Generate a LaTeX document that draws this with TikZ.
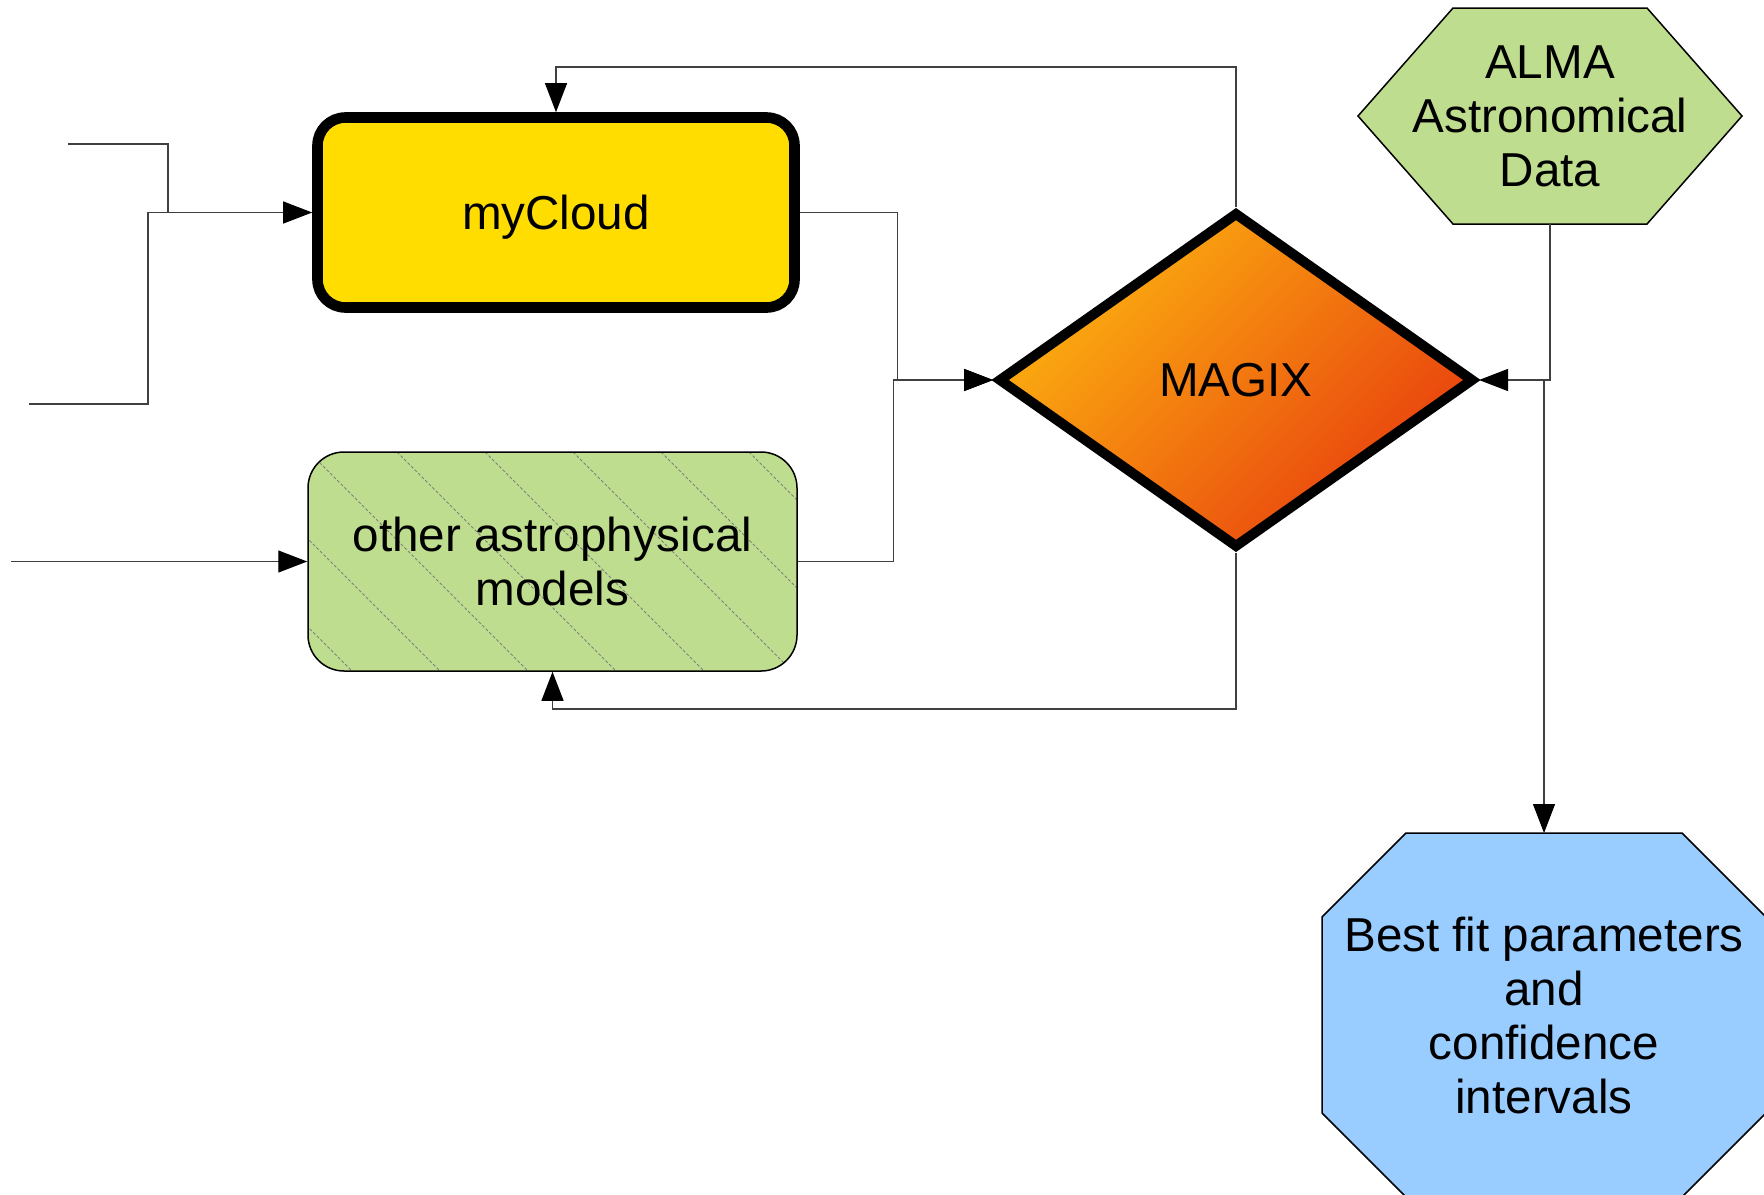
\documentclass[tikz,border=0pt]{standalone}
\usepackage{fontspec}
\setmainfont{Liberation Sans}
\usetikzlibrary{shapes,arrows.meta,positioning,calc,backgrounds}

\definecolor{cloudyellow}{RGB}{255,221,0}
\definecolor{modelgreen}{RGB}{190,221,142}
\definecolor{resultblue}{RGB}{153,204,255}
\definecolor{magixlight}{RGB}{252,178,16}
\definecolor{magixdark}{RGB}{232,62,14}

\tikzset{
  box/.style={align=center, inner sep=0pt, font=\fontsize{23.8}{27}\selectfont},
  plate/.style={box, outer sep=0pt},
  outline/.style={draw, line width=0.75pt},
  wire/.style={draw=black!75, line width=0.6pt},
  link/.style={wire, -{Triangle[length=14.5pt,width=11pt,color=black]}},
  hatchline/.style={draw=black!50, line width=0.4pt, dash pattern=on 1.5pt off 1pt},
}

\begin{document}
\begin{tikzpicture}[x=0.5pt,y=-0.5pt]
\useasboundingbox (0,0) rectangle (1764,1194);

\node[box, draw, line width=5.3pt, fill=cloudyellow, rounded corners=14pt, text depth=0pt,
  minimum width=238.5pt, minimum height=95pt] (mycloud) at (556,212.5) {myCloud};
\node[box, outline, fill=modelgreen, rounded corners=18pt,
  minimum width=244.5pt, minimum height=109.5pt,
  path picture={\foreach \k in {-3,...,5}
    \draw[hatchline] ([xshift=\k*44pt+0.5pt]path picture bounding box.north west) -- ++(120pt,-120pt);}]
  (models) at (552.5,561.5) {other astrophysical\\models};
\node[box, diamond, draw, line width=5pt, top color=magixlight, bottom color=magixdark,
  shading angle=45, minimum width=238pt, minimum height=168pt] (magix) at (1236,380) {MAGIX};
\node[plate, minimum width=192pt, minimum height=108pt] (alma) at (1550,116) {ALMA\\Astronomical\\Data};
\node[plate, minimum width=222pt, minimum height=182pt] (best) at (1544,1015)
  {Best fit parameters\\and\\confidence\\intervals};

% hexagon and octagon outlines
\begin{scope}[on background layer]
\draw[outline, fill=modelgreen] (alma.west) -- ([xshift=47.5pt]alma.north west)
  -- ([xshift=-47.5pt]alma.north east) -- (alma.east)
  -- ([xshift=-47.5pt]alma.south east) -- ([xshift=47.5pt]alma.south west) -- cycle;
\draw[outline, fill=resultblue] ([yshift=-42pt]best.north west) -- ([xshift=42pt]best.north west)
  -- ([xshift=-42pt]best.north east) -- ([yshift=-42pt]best.north east)
  -- ([yshift=42pt]best.south east) -- ([xshift=-42pt]best.south east)
  -- ([xshift=42pt]best.south west) -- ([yshift=42pt]best.south west) -- cycle;
\end{scope}

% free ends on the left
\coordinate (inA) at (68,144);
\coordinate (inB) at (29,404);
\coordinate (inC) at (11,561.5);
\coordinate (jA) at (168,212.5);

\draw[link] (inA) -| (jA) -- (mycloud.west);
\draw[wire] (inB) -| ([xshift=-10pt]jA) -- (jA);
\draw[link] (inC) -- (models.west);

% into MAGIX
\draw[link] (mycloud.east) -- ++(98,0) |- (magix.west);
\draw[link] (models.east) -- ++(96,0) |- (magix.west);
\draw[link] (alma.south) |- (magix.east);

% feedback loops
\draw[link] (magix.north) -- ++(0,-140) -| (mycloud.north);
\draw[link] (magix.south) -- ++(0,156) -| (models.south);

% result
\draw[link] (best.north |- magix.east) -- (best.north);
\end{tikzpicture}
\end{document}
